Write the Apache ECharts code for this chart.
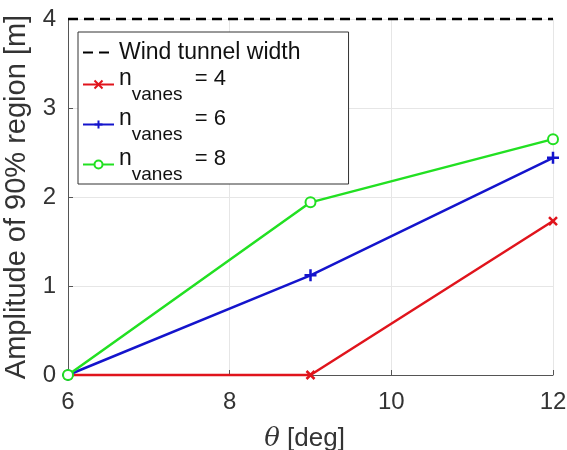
<!DOCTYPE html>
<html>
<head>
<meta charset="utf-8">
<script src="https://cdn.jsdelivr.net/npm/echarts@6/dist/echarts.min.js"></script>
<style>
  html, body { margin: 0; padding: 0; background: #fff; }
  #chart { width: 567px; height: 450px; }
</style>
</head>
<body>
<div id="chart"></div>
<script>
// data
const theta = [6, 9, 12];
const vanes4 = [0, 0, 1.73];
const vanes6 = [0, 1.12, 2.44];
const vanes8 = [0, 1.94, 2.65];
const tunnelX = [6, 12];
const tunnelWidth = [4, 4];
const seriesNames = ['Wind tunnel width', 'n_vanes = 4', 'n_vanes = 6', 'n_vanes = 8'];
const xTicks = [6, 8, 10, 12];
const yTicks = [0, 1, 2, 3, 4];

const font = '"Liberation Sans", Arial, sans-serif';
const red = '#e0141c';
const blue = '#1414cc';
const green = '#22e022';

function pairs(xs, ys) {
    return xs.map((x, i) => [x, ys[i]]);
}

const crossPath = 'path://M0,0L10,10M10,0L0,10';
const plusPath = 'path://M0,5L10,5M5,0L5,10';

let chart = echarts.init(document.getElementById('chart'));

let option = {
    backgroundColor: '#fff',
    animation: false,
    grid: { left: 68, right: 14, top: 19, bottom: 75, outerBoundsMode: 'none', containLabel: false },
    xAxis: {
        type: 'value',
        min: xTicks[0],
        max: xTicks[xTicks.length - 1],
        interval: 2,
        name: '{i|θ} [deg]',
        nameLocation: 'middle',
        nameGap: 51,
        nameTextStyle: {
            fontFamily: font, fontSize: 26, color: '#333', padding: [0, 12, 0, 0],
            rich: { i: { fontFamily: '"DejaVu Serif", serif', fontStyle: 'italic', fontSize: 26, color: '#333' } }
        },
        axisLine: { lineStyle: { color: '#555', width: 1 } },
        axisTick: { inside: true, length: 5, lineStyle: { color: '#555' } },
        axisLabel: { fontFamily: font, fontSize: 24, color: '#333', margin: 15 },
        splitLine: { show: true, lineStyle: { color: '#e6e6e6', width: 1 } }
    },
    yAxis: {
        type: 'value',
        min: yTicks[0],
        max: yTicks[yTicks.length - 1],
        interval: 1,
        name: 'Amplitude of 90% region [m]',
        nameLocation: 'middle',
        nameRotate: 90,
        nameGap: 36,
        nameTextStyle: { fontFamily: font, fontSize: 29, color: '#333' },
        axisLine: { show: true, lineStyle: { color: '#555', width: 1 } },
        axisTick: { show: true, inside: true, length: 5, lineStyle: { color: '#555' } },
        axisLabel: { fontFamily: font, fontSize: 24, color: '#333', margin: 12 },
        splitLine: { show: true, lineStyle: { color: '#e6e6e6', width: 1 } }
    },
    legend: {
        orient: 'vertical',
        left: 78,
        top: 32,
        padding: [9, 48, 0, 4],
        itemGap: 1,
        itemWidth: 31,
        itemHeight: 10,
        backgroundColor: '#fff',
        borderColor: '#333',
        borderWidth: 1,
        borderRadius: 0,
        data: [
            { name: seriesNames[0], itemStyle: { opacity: 0 } },
            seriesNames[1],
            seriesNames[2],
            seriesNames[3]
        ],
        formatter: function (name) {
            if (name.indexOf('n_vanes') !== 0) return '{w|' + name + '}';
            let v = name.split('=')[1].trim();
            return '{n|n}{s|vanes}{e|  = ' + v + '}';
        },
        textStyle: {
            fontFamily: font,
            color: '#111',
            rich: {
                w: { fontFamily: font, fontSize: 23, lineHeight: 36, color: '#111' },
                n: { fontFamily: font, fontSize: 23, lineHeight: 24, padding: [0, 0, 12, 0], color: '#111', verticalAlign: 'middle' },
                s: { fontFamily: font, fontSize: 19, lineHeight: 20, padding: [20, 0, 0, 0], color: '#111', verticalAlign: 'middle' },
                e: { fontFamily: font, fontSize: 22, lineHeight: 24, padding: [0, 0, 12, 0], color: '#111', verticalAlign: 'middle' }
            }
        }
    },
    series: [
        {
            name: seriesNames[0],
            type: 'line',
            data: pairs(tunnelX, tunnelWidth),
            showSymbol: false,
            symbol: 'none',
            clip: false,
            lineStyle: { color: '#000', width: 2.5, type: [10, 6] },
            itemStyle: { color: '#000' },
            z: 5
        },
        {
            name: seriesNames[1],
            type: 'line',
            data: pairs(theta, vanes4),
            symbol: crossPath,
            symbolSize: 8,
            clip: false,
            lineStyle: { color: red, width: 2.5 },
            itemStyle: { color: red, borderColor: red, borderWidth: 2.5 },
            z: 3
        },
        {
            name: seriesNames[2],
            type: 'line',
            data: pairs(theta, vanes6),
            symbol: plusPath,
            symbolSize: 12,
            clip: false,
            lineStyle: { color: blue, width: 2.5 },
            itemStyle: { color: blue, borderColor: blue, borderWidth: 2.5 },
            z: 4
        },
        {
            name: seriesNames[3],
            type: 'line',
            data: pairs(theta, vanes8),
            symbol: 'emptyCircle',
            symbolSize: 10,
            clip: false,
            lineStyle: { color: green, width: 2.5 },
            itemStyle: { color: green, borderColor: green, borderWidth: 2.5 },
            z: 5
        }
    ]
};

chart.setOption(option);
</script>
</body>
</html>
